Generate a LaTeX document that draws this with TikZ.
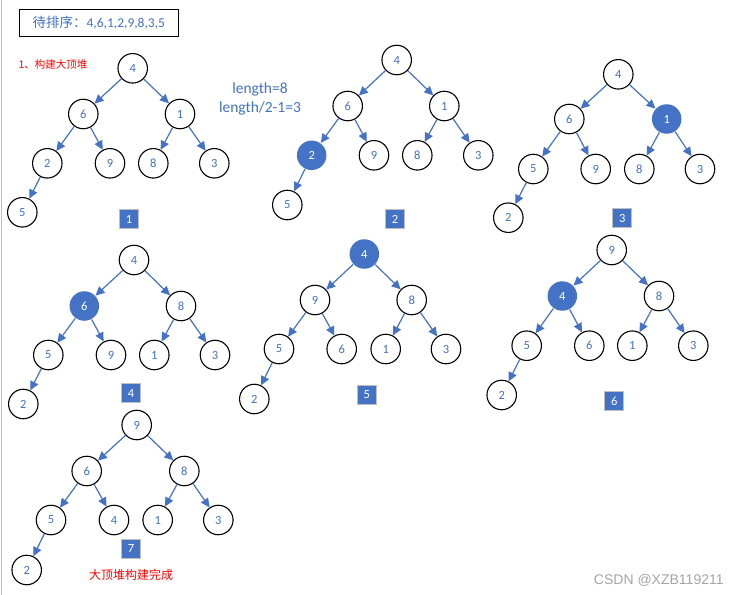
\documentclass[tikz,border=0pt]{standalone}
\usepackage{fontspec}
\setmainfont{Carlito}
\newfontfamily\cjk{Noto Sans CJK SC}
\newfontfamily\wm{Liberation Sans}
\usetikzlibrary{arrows.meta}
\definecolor{hblue}{RGB}{68,114,196}
\definecolor{wmgray}{RGB}{165,165,165}
\tikzset{
  nd/.style={circle, draw=black, line width=1.1pt, minimum size=29.5pt, inner sep=0pt, text=hblue, font=\fontsize{12.5}{12.5}\selectfont},
  hl/.style={nd, draw=none, fill=hblue, text=white},
  ar/.style={draw=hblue, line width=1.2pt, -{Triangle[length=9pt,width=8.5pt]}},
  numbox/.style={fill=hblue, draw=black!25, line width=0.8pt, minimum size=19pt, inner sep=0pt, text=white, font=\fontsize{12.5}{12.5}\selectfont}
}
\begin{document}
\begin{tikzpicture}[x=1pt,y=-1pt]
\useasboundingbox (0,0) rectangle (740,595);
\fill[white] (0,0) rectangle (740,595);
\draw[black!25, line width=1.3pt] (1.5,0) -- (1.5,595);
% title
\node[draw=black, line width=1pt, minimum width=159pt, minimum height=26.7pt, inner sep=0pt, text=hblue, font=\fontsize{13.5}{14}\selectfont] (title) at (98.8,22.7) {{\cjk 待排序：}4,6,1,2,9,8,3,5};
\node[text=red, font=\cjk\fontsize{10.5}{11}\selectfont, inner sep=0pt] (step1) at (53,65) {1、构建大顶堆};
\node[text=hblue, font=\fontsize{15.5}{19}\selectfont, align=center, inner sep=0pt] (len) at (260,99) {length=8\\length/2-1=3};
% tree 1
\node[nd] (t1a) at (132.7,68.3) {4};
\node[nd] (t1b) at (83.3,114) {6};
\node[nd] (t1c) at (180,114) {1};
\node[nd] (t1d) at (47.3,163.3) {2};
\node[nd] (t1e) at (110,163.3) {9};
\node[nd] (t1f) at (153.3,163.3) {8};
\node[nd] (t1g) at (214.3,163.3) {3};
\node[nd] (t1h) at (22.3,212.3) {5};
\node[numbox] (b1) at (129,219.3) {1};
% tree 2
\node[nd] (t2a) at (396.7,60) {4};
\node[nd] (t2b) at (347.7,106) {6};
\node[nd] (t2c) at (444.3,106) {1};
\node[hl] (t2d) at (311.7,155.3) {2};
\node[nd] (t2e) at (374,155.3) {9};
\node[nd] (t2f) at (417.3,155.3) {8};
\node[nd] (t2g) at (478.3,155.3) {3};
\node[nd] (t2h) at (287.3,205) {5};
\node[numbox] (b2) at (395,219) {2};
% tree 3
\node[nd] (t3a) at (618.3,74.3) {4};
\node[nd] (t3b) at (569.3,119) {6};
\node[hl] (t3c) at (666.7,119) {1};
\node[nd] (t3d) at (533.3,169) {5};
\node[nd] (t3e) at (595.7,169) {9};
\node[nd] (t3f) at (639.3,169) {8};
\node[nd] (t3g) at (700,169) {3};
\node[nd] (t3h) at (508.3,217.7) {2};
\node[numbox] (b3) at (622.3,218.3) {3};
% tree 4
\node[nd] (t4a) at (134,260) {4};
\node[hl] (t4b) at (84.3,306) {6};
\node[nd] (t4c) at (181,306) {8};
\node[nd] (t4d) at (48.3,355) {5};
\node[nd] (t4e) at (111,355) {9};
\node[nd] (t4f) at (154.3,355) {1};
\node[nd] (t4g) at (215,355) {3};
\node[nd] (t4h) at (23.3,404) {2};
\node[numbox] (b4) at (131,393.3) {4};
% tree 5
\node[hl] (t5a) at (364.3,254) {4};
\node[nd] (t5b) at (315,300) {9};
\node[nd] (t5c) at (411.7,300) {8};
\node[nd] (t5d) at (279,349) {5};
\node[nd] (t5e) at (341.7,349) {6};
\node[nd] (t5f) at (385.7,349) {1};
\node[nd] (t5g) at (446,349) {3};
\node[nd] (t5h) at (254.3,399) {2};
\node[numbox] (b5) at (366.7,395) {5};
% tree 6
\node[nd] (t6a) at (611.7,250) {9};
\node[hl] (t6b) at (562.3,296) {4};
\node[nd] (t6c) at (659,296) {8};
\node[nd] (t6d) at (526.7,345.7) {5};
\node[nd] (t6e) at (589.3,345.7) {6};
\node[nd] (t6f) at (632.3,345.7) {1};
\node[nd] (t6g) at (693.3,345.7) {3};
\node[nd] (t6h) at (501.7,395) {2};
\node[numbox] (b6) at (614.3,401) {6};
% tree 7
\node[nd] (t7a) at (136.7,425) {9};
\node[nd] (t7b) at (86.7,471) {6};
\node[nd] (t7c) at (184.3,471) {8};
\node[nd] (t7d) at (51,520) {5};
\node[nd] (t7e) at (114,520) {4};
\node[nd] (t7f) at (157.7,520) {1};
\node[nd] (t7g) at (218.3,520) {3};
\node[nd] (t7h) at (26.7,570) {2};
\node[numbox] (b7) at (131,548.7) {7};
\node[text=red, font=\cjk\fontsize{12}{12}\selectfont, inner sep=0pt] (done) at (131,574.5) {大顶堆构建完成};
% edges
\foreach \t in {1,...,7}{
  \draw[ar] (t\t a) -- (t\t b);
  \draw[ar] (t\t a) -- (t\t c);
  \draw[ar] (t\t b) -- (t\t d);
  \draw[ar] (t\t b) -- (t\t e);
  \draw[ar] (t\t c) -- (t\t f);
  \draw[ar] (t\t c) -- (t\t g);
  \draw[ar] (t\t d) -- (t\t h);
}
\node[text=wmgray, font=\wm\fontsize{14}{14}\selectfont, inner sep=0pt] (wmark) at (658.8,580) {CSDN @XZB119211};
\end{tikzpicture}
\end{document}
